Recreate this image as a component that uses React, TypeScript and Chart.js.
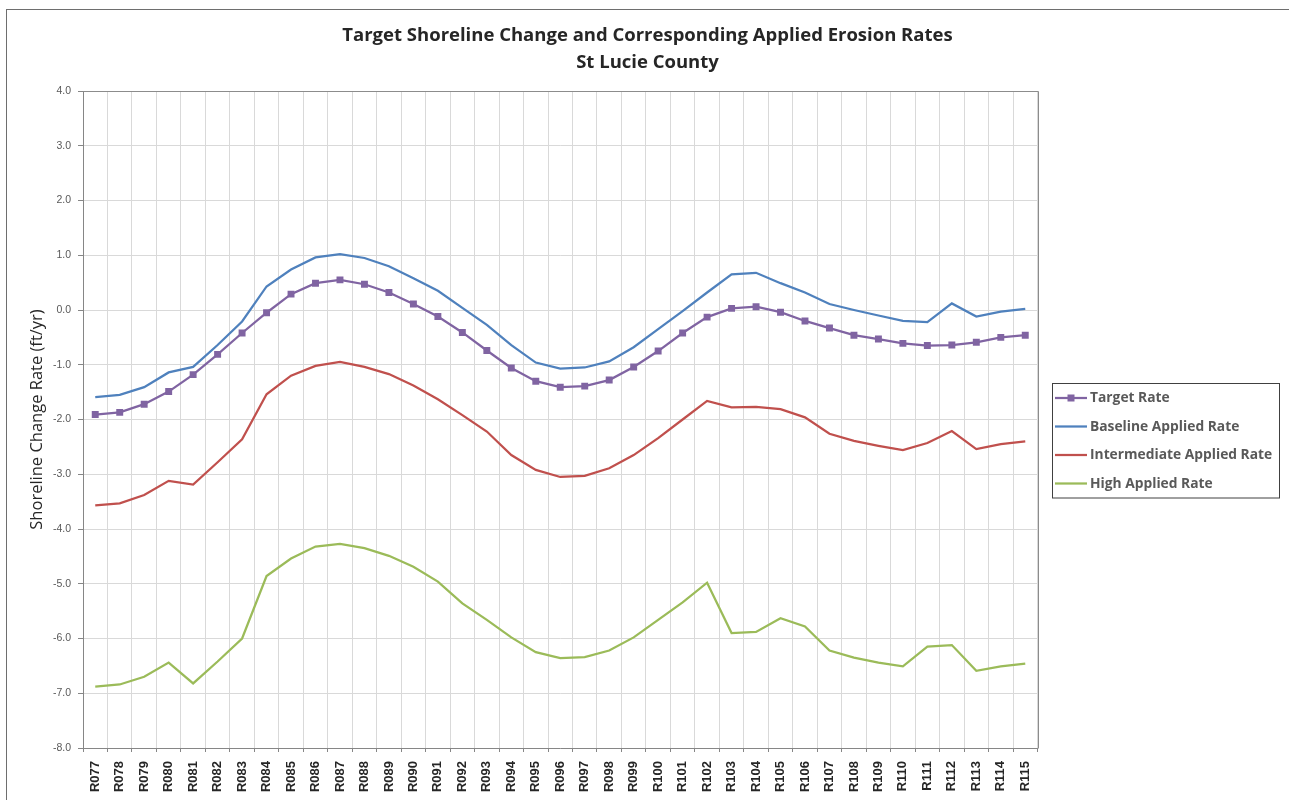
import React, { useEffect, useRef } from 'react';
import { Chart, registerables } from 'chart.js';

Chart.register(...registerables);

const categories = [
  'R077', 'R078', 'R079', 'R080', 'R081', 'R082', 'R083', 'R084', 'R085', 'R086', 'R087', 'R088', 'R089',
  'R090', 'R091', 'R092', 'R093', 'R094', 'R095', 'R096', 'R097', 'R098', 'R099', 'R100', 'R101', 'R102',
  'R103', 'R104', 'R105', 'R106', 'R107', 'R108', 'R109', 'R110', 'R111', 'R112', 'R113', 'R114', 'R115',
];

const targetRate = [
  -1.91, -1.87, -1.72, -1.49, -1.18, -0.81, -0.42, -0.05, 0.29, 0.49, 0.55, 0.47, 0.32,
  0.11, -0.12, -0.41, -0.74, -1.06, -1.30, -1.41, -1.39, -1.28, -1.04, -0.75, -0.42, -0.13,
  0.03, 0.06, -0.04, -0.20, -0.33, -0.46, -0.53, -0.61, -0.65, -0.64, -0.59, -0.50, -0.46,
];

const baselineRate = [
  -1.59, -1.55, -1.41, -1.14, -1.04, -0.64, -0.21, 0.43, 0.74, 0.96, 1.02, 0.95, 0.80,
  0.58, 0.35, 0.04, -0.27, -0.64, -0.96, -1.07, -1.05, -0.94, -0.68, -0.35, -0.02, 0.32,
  0.65, 0.68, 0.49, 0.32, 0.11, 0.0, -0.10, -0.20, -0.22, 0.12, -0.12, -0.03, 0.02,
];

const intermediateRate = [
  -3.57, -3.53, -3.38, -3.12, -3.19, -2.78, -2.36, -1.54, -1.20, -1.02, -0.95, -1.04, -1.17,
  -1.38, -1.63, -1.92, -2.22, -2.65, -2.92, -3.05, -3.03, -2.89, -2.65, -2.34, -2.00, -1.66,
  -1.78, -1.77, -1.81, -1.96, -2.26, -2.39, -2.48, -2.56, -2.43, -2.21, -2.54, -2.45, -2.40,
];

const highRate = [
  -6.88, -6.84, -6.70, -6.44, -6.82, -6.42, -6.00, -4.86, -4.54, -4.32, -4.27, -4.35, -4.49,
  -4.69, -4.96, -5.36, -5.66, -5.98, -6.25, -6.36, -6.34, -6.22, -5.98, -5.66, -5.34, -4.98,
  -5.90, -5.88, -5.63, -5.78, -6.22, -6.35, -6.44, -6.51, -6.15, -6.12, -6.59, -6.51, -6.46,
];

const seriesNames = ['Target Rate', 'Baseline Applied Rate', 'Intermediate Applied Rate', 'High Applied Rate'];
const seriesColors = ['#8064A2', '#4F81BD', '#C0504D', '#9BBB59'];
const titleLines = ['Target Shoreline Change and Corresponding Applied Erosion Rates', 'St Lucie County'];
const yAxisTitle = 'Shoreline Change Rate (ft/yr)';
const yMin = -8;
const yMax = 4;
const yStep = 1;

const framePlugin = {
  id: 'framePlugin',
  beforeDraw(chart: any) {
    const { ctx, width, height } = chart;
    ctx.save();
    ctx.fillStyle = '#ffffff';
    ctx.fillRect(0, 0, width, height);
    ctx.strokeStyle = '#6e6e6e';
    ctx.lineWidth = 1;
    ctx.strokeRect(6.5, 9.5, width + 20, height + 20);
    ctx.restore();
  },
  beforeDatasetsDraw(chart: any) {
    const { ctx, chartArea } = chart;
    ctx.save();
    ctx.strokeStyle = '#8c8c8c';
    ctx.lineWidth = 1;
    ctx.beginPath();
    ctx.moveTo(Math.round(chartArea.left) + 0.5, Math.round(chartArea.top) + 0.5);
    ctx.lineTo(Math.round(chartArea.right) + 0.5, Math.round(chartArea.top) + 0.5);
    ctx.lineTo(Math.round(chartArea.right) + 0.5, Math.round(chartArea.bottom) + 0.5);
    ctx.stroke();
    ctx.restore();
  },
  afterDatasetsDraw(chart: any) {
    const { ctx } = chart;
    ctx.save();
    const boxL = 1052.5;
    const boxT = 383.5;
    const boxW = 227;
    const boxH = 114.5;
    ctx.strokeStyle = '#404040';
    ctx.lineWidth = 1;
    ctx.strokeRect(boxL, boxT, boxW, boxH);
    const rows = [398, 426.5, 455, 483.5];
    ctx.font = 'bold 13.8px "Open Sans"';
    ctx.textBaseline = 'middle';
    ctx.textAlign = 'left';
    seriesNames.forEach((name, i) => {
      const y = rows[i];
      ctx.strokeStyle = seriesColors[i];
      ctx.lineWidth = 2.25;
      ctx.beginPath();
      ctx.moveTo(1055, y);
      ctx.lineTo(1087, y);
      ctx.stroke();
      if (i === 0) {
        ctx.fillStyle = seriesColors[i];
        ctx.fillRect(1071 - 3.5, y - 3.5, 7, 7);
      }
      ctx.fillStyle = '#595959';
      ctx.fillText(name, 1090, y + 0.5);
    });
    ctx.restore();
  },
};

export default function App() {
  const canvasRef = useRef<HTMLCanvasElement | null>(null);

  useEffect(() => {
    document.body.style.margin = '0';
    const canvas = canvasRef.current;
    if (!canvas) return;
    const lineDs = (label: string, data: number[], color: string, marker: boolean) => ({
      label,
      data,
      borderColor: color,
      backgroundColor: color,
      borderWidth: 2.25,
      pointRadius: marker ? 4.9 : 0,
      pointHoverRadius: marker ? 4.9 : 0,
      pointStyle: 'rect',
      pointBorderWidth: 0,
      tension: 0,
      fill: false,
      yAxisID: 'y',
    });
    const chart = new Chart(canvas, {
      type: 'line',
      data: {
        labels: categories,
        datasets: [
          lineDs(seriesNames[3], highRate, seriesColors[3], false),
          lineDs(seriesNames[2], intermediateRate, seriesColors[2], false),
          lineDs(seriesNames[1], baselineRate, seriesColors[1], false),
          lineDs(seriesNames[0], targetRate, seriesColors[0], true),
        ],
      },
      options: {
        animation: false,
        responsive: false,
        maintainAspectRatio: false,
        layout: { padding: { left: 6, top: 0, right: 0, bottom: 0 } },
        plugins: {
          legend: { display: false },
          tooltip: { enabled: false },
          title: {
            display: true,
            text: titleLines,
            color: '#262626',
            font: { family: '"Open Sans"', size: 18.5, weight: 'bold', lineHeight: 27 / 18.5 },
            padding: { top: 22.5, bottom: 14.5 },
          },
        },
        scales: {
          x: {
            type: 'category',
            offset: true,
            grid: {
              offset: true,
              color: '#d9d9d9',
              lineWidth: 1,
              drawTicks: true,
              tickLength: 4,
              tickColor: '#868686',
            },
            border: { display: true, color: '#868686', width: 1 },
            ticks: {
              autoSkip: false,
              maxRotation: 90,
              minRotation: 90,
              padding: 9,
              color: '#262626',
              font: { family: '"Liberation Sans", Arial, sans-serif', size: 13, weight: 'bold' },
            },
            afterFit(scale: any) {
              scale.height = 52;
            },
          },
          y: {
            min: yMin,
            max: yMax,
            grid: {
              color: '#d9d9d9',
              lineWidth: 1,
              drawTicks: true,
              tickLength: 5,
              tickColor: '#868686',
            },
            border: { display: true, color: '#868686', width: 1 },
            ticks: {
              stepSize: yStep,
              padding: 7,
              color: '#595959',
              font: { family: '"Liberation Sans", Arial, sans-serif', size: 10.5 },
              callback: (v: any) => Number(v).toFixed(1),
            },
            title: {
              display: true,
              text: yAxisTitle,
              color: '#262626',
              font: { family: '"Open Sans"', size: 16.5 },
              padding: { top: 21, bottom: 0 },
            },
            afterFit(scale: any) {
              scale.width = 77;
            },
          },
          legendSpace: {
            type: 'linear',
            position: 'right',
            display: true,
            grid: { display: false, drawOnChartArea: false, drawTicks: false },
            border: { display: false },
            ticks: { display: false },
            afterFit(scale: any) {
              scale.width = 251.5;
            },
          },
        },
      },
      plugins: [framePlugin],
    } as any);
    return () => chart.destroy();
  }, []);

  return (
    <div style={{ width: 1289, height: 800, position: 'relative' }}>
      <canvas ref={canvasRef} width={1289} height={800} style={{ display: 'block' }} />
    </div>
  );
}
